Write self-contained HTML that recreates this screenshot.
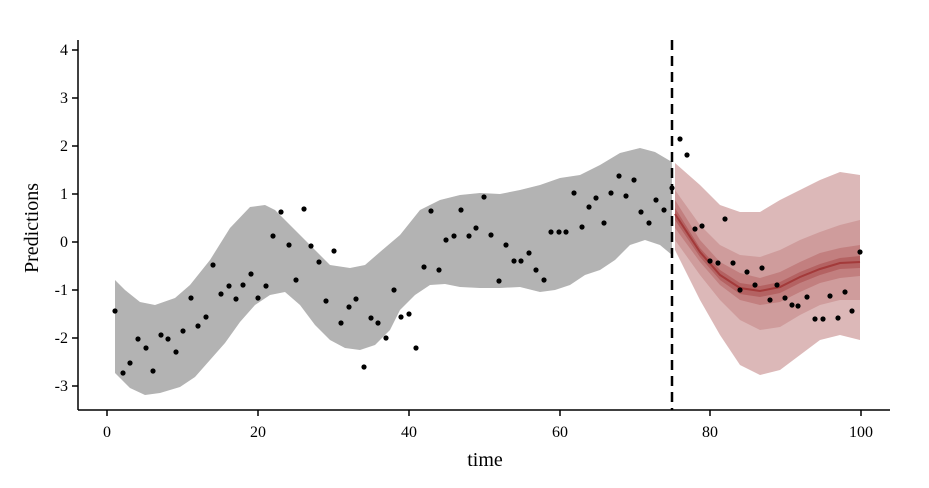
<!DOCTYPE html><html><head><style>body{margin:0;background:#fff}svg{display:block}text{font-family:"Liberation Serif",serif;fill:#000}</style></head><body>
<svg width="929" height="488" xmlns="http://www.w3.org/2000/svg">
<polygon fill="#b3b3b3" points="115,280 125,290 140,302 155,305 175,298 190,285 210,260 230,228 250,207 265,205 275,210 290,225 310,245 330,265 350,268 365,265 380,252 400,235 420,210 440,200 460,195 480,193 500,194 520,190 540,185 560,178 580,175 600,165 620,153 640,148 655,152 672,162 672,255 660,245 645,240 630,245 615,260 600,270 585,275 570,285 555,290 540,292 520,287 500,288 480,288 460,287 445,284 430,285 415,295 400,310 390,330 375,345 360,350 345,348 330,340 315,325 300,305 285,292 270,295 255,305 240,322 225,343 210,360 195,377 180,387 160,393 145,395 130,388 115,373"/>
<polygon fill="#dcb8b8" points="675,163 700,185 720,205 740,212 760,212 780,200 800,190 820,180 840,172 860,175 860,340 840,335 820,340 800,355 780,370 760,375 740,365 720,335 700,300 675,250"/>
<polygon fill="#cf9c9c" points="675,190 700,225 720,245 740,255 760,257 780,250 800,240 820,232 840,225 860,220 860,300 840,300 820,305 800,315 780,327 760,330 740,320 720,300 700,275 675,240"/>
<polygon fill="#c27f7f" points="675,200 700,240 720,262 740,273 760,278 780,272 800,262 820,253 840,248 860,245 860,276 840,278 820,283 800,292 780,302 760,305 740,300 720,285 700,262 675,228"/>
<polygon fill="#b46262" points="675,208 700,248 720,270 740,283 760,286 780,282 800,272 820,264 840,258 860,256 860,268 840,269 820,275 800,283 780,293 760,297 740,294 720,280 700,257 675,220"/>
<polyline fill="none" stroke="#a33a3a" stroke-width="2" points="675,214 700,252 720,275 740,288 760,291 780,287 800,277 820,269 840,263 860,262"/>
<line x1="672" y1="40" x2="672" y2="410" stroke="#000" stroke-width="2.5" stroke-dasharray="10,6"/>
<g fill="#000">
<circle cx="115" cy="311" r="2.6"/><circle cx="123" cy="373" r="2.6"/><circle cx="130" cy="363" r="2.6"/><circle cx="138" cy="339" r="2.6"/><circle cx="146" cy="348" r="2.6"/><circle cx="153" cy="371" r="2.6"/><circle cx="161" cy="335" r="2.6"/><circle cx="168" cy="339" r="2.6"/><circle cx="176" cy="352" r="2.6"/><circle cx="183" cy="331" r="2.6"/><circle cx="191" cy="298" r="2.6"/><circle cx="198" cy="326" r="2.6"/><circle cx="206" cy="317" r="2.6"/><circle cx="213" cy="265" r="2.6"/><circle cx="221" cy="294" r="2.6"/><circle cx="229" cy="286" r="2.6"/><circle cx="236" cy="299" r="2.6"/><circle cx="243" cy="285" r="2.6"/><circle cx="251" cy="274" r="2.6"/><circle cx="258" cy="298" r="2.6"/><circle cx="266" cy="286" r="2.6"/><circle cx="273" cy="236" r="2.6"/><circle cx="281" cy="212" r="2.6"/><circle cx="289" cy="245" r="2.6"/><circle cx="296" cy="280" r="2.6"/><circle cx="304" cy="209" r="2.6"/><circle cx="311" cy="246" r="2.6"/><circle cx="319" cy="262" r="2.6"/><circle cx="326" cy="301" r="2.6"/><circle cx="334" cy="251" r="2.6"/><circle cx="341" cy="323" r="2.6"/><circle cx="349" cy="307" r="2.6"/><circle cx="356" cy="299" r="2.6"/><circle cx="364" cy="367" r="2.6"/><circle cx="371" cy="318" r="2.6"/><circle cx="378" cy="323" r="2.6"/><circle cx="386" cy="338" r="2.6"/><circle cx="394" cy="290" r="2.6"/><circle cx="401" cy="317" r="2.6"/><circle cx="409" cy="314" r="2.6"/><circle cx="416" cy="348" r="2.6"/><circle cx="424" cy="267" r="2.6"/><circle cx="431" cy="211" r="2.6"/><circle cx="439" cy="270" r="2.6"/><circle cx="446" cy="240" r="2.6"/><circle cx="454" cy="236" r="2.6"/><circle cx="461" cy="210" r="2.6"/><circle cx="469" cy="236" r="2.6"/><circle cx="476" cy="228" r="2.6"/><circle cx="484" cy="197" r="2.6"/><circle cx="491" cy="235" r="2.6"/><circle cx="499" cy="281" r="2.6"/><circle cx="506" cy="245" r="2.6"/><circle cx="514" cy="261" r="2.6"/><circle cx="521" cy="261" r="2.6"/><circle cx="529" cy="253" r="2.6"/><circle cx="536" cy="270" r="2.6"/><circle cx="544" cy="280" r="2.6"/><circle cx="551" cy="232" r="2.6"/><circle cx="559" cy="232" r="2.6"/><circle cx="566" cy="232" r="2.6"/><circle cx="574" cy="193" r="2.6"/><circle cx="582" cy="227" r="2.6"/><circle cx="589" cy="207" r="2.6"/><circle cx="596" cy="198" r="2.6"/><circle cx="604" cy="223" r="2.6"/><circle cx="611" cy="193" r="2.6"/><circle cx="619" cy="176" r="2.6"/><circle cx="626" cy="196" r="2.6"/><circle cx="634" cy="180" r="2.6"/><circle cx="641" cy="212" r="2.6"/><circle cx="649" cy="223" r="2.6"/><circle cx="656" cy="200" r="2.6"/><circle cx="664" cy="210" r="2.6"/><circle cx="672" cy="188" r="2.6"/>
<circle cx="680" cy="139" r="2.6"/><circle cx="687" cy="155" r="2.6"/><circle cx="695" cy="229" r="2.6"/><circle cx="702" cy="226" r="2.6"/><circle cx="725" cy="219" r="2.6"/><circle cx="710" cy="261" r="2.6"/><circle cx="718" cy="263" r="2.6"/><circle cx="733" cy="263" r="2.6"/><circle cx="740" cy="290" r="2.6"/><circle cx="747" cy="272" r="2.6"/><circle cx="755" cy="285" r="2.6"/><circle cx="762" cy="268" r="2.6"/><circle cx="770" cy="300" r="2.6"/><circle cx="777" cy="285" r="2.6"/><circle cx="785" cy="298" r="2.6"/><circle cx="792" cy="305" r="2.6"/><circle cx="798" cy="306" r="2.6"/><circle cx="807" cy="297" r="2.6"/><circle cx="815" cy="319" r="2.6"/><circle cx="823" cy="319" r="2.6"/><circle cx="830" cy="296" r="2.6"/><circle cx="838" cy="318" r="2.6"/><circle cx="845" cy="292" r="2.6"/><circle cx="852" cy="311" r="2.6"/><circle cx="860" cy="252" r="2.6"/>
</g>
<g stroke="#000" stroke-width="1.5" fill="none">
<line x1="78" y1="40" x2="78" y2="410"/><line x1="78" y1="410" x2="890" y2="410"/>
<path d="M72,50H78M72,98H78M72,146H78M72,194H78M72,242H78M72,290H78M72,338H78M72,386H78"/>
<path d="M107,410V416M258,410V416M409,410V416M560,410V416M710,410V416M861,410V416"/>
</g>
<g font-size="16" text-anchor="end">
<text x="68" y="55">4</text><text x="68" y="103">3</text><text x="68" y="151">2</text><text x="68" y="199">1</text><text x="68" y="247">0</text><text x="68" y="295">-1</text><text x="68" y="343">-2</text><text x="68" y="391">-3</text>
</g>
<g font-size="16" text-anchor="middle">
<text x="107" y="437">0</text><text x="258" y="437">20</text><text x="409" y="437">40</text><text x="560" y="437">60</text><text x="710" y="437">80</text><text x="861" y="437">100</text>
</g>
<text x="485" y="466" font-size="20" text-anchor="middle">time</text>
<text transform="translate(38,228) rotate(-90)" font-size="20" text-anchor="middle">Predictions</text>
</svg></body></html>
